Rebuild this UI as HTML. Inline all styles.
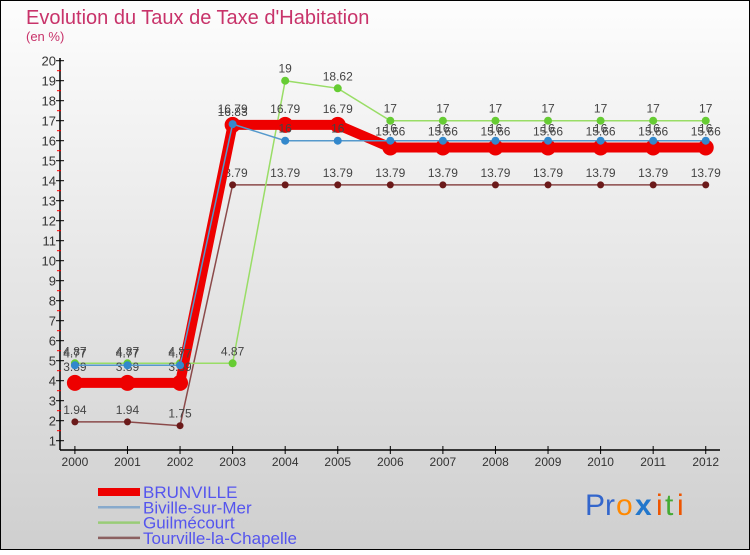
<!DOCTYPE html>
<html><head><meta charset="utf-8"><style>
body{margin:0;}
svg text{font-family:"Liberation Sans Narrow","Liberation Sans",sans-serif;}
</style></head><body>
<svg width="750" height="550" viewBox="0 0 750 550" xmlns="http://www.w3.org/2000/svg">
<defs><linearGradient id="bg" x1="0" y1="0" x2="0" y2="1"><stop offset="0" stop-color="#fdfdfd"/><stop offset="1" stop-color="#cfcfcf"/></linearGradient></defs>
<rect x="0" y="0" width="750" height="550" fill="url(#bg)" stroke="#000" stroke-width="2"/>
<text x="26" y="24" font-size="20" fill="#c8336a">Evolution du Taux de Taxe d'Habitation</text>
<text x="26" y="41" font-size="13" fill="#c8336a">(en %)</text>
<g id="axes"></g>
<g id="series"></g>
<g id="legend"></g>
<g font-size="30">
<text x="585" y="515" fill="#3366cc">Pr</text><text x="616" y="515" fill="#ff8800">o</text><text x="635" y="515" fill="#2277cc" font-weight="bold">x</text><text x="656" y="515" fill="#ee5500">i</text><text x="665" y="515" fill="#44aa33">t</text><text x="677" y="515" fill="#ee5500">i</text>
</g>
</svg>
<script>
const years=[2000,2001,2002,2003,2004,2005,2006,2007,2008,2009,2010,2011,2012];
const brunville=[3.89,3.89,3.89,16.79,16.79,16.79,15.66,15.66,15.66,15.66,15.66,15.66,15.66];
const biville=[4.77,4.77,4.77,16.83,16,16,16,16,16,16,16,16,16];
const guilmecourt=[4.87,4.87,4.87,4.87,19,18.62,17,17,17,17,17,17,17];
const tourville=[1.94,1.94,1.75,13.79,13.79,13.79,13.79,13.79,13.79,13.79,13.79,13.79,13.79];
const seriesNames=["BRUNVILLE","Biville-sur-Mer","Guilmécourt","Tourville-la-Chapelle"];
const yTicks=[1,2,3,4,5,6,7,8,9,10,11,12,13,14,15,16,17,18,19,20];

const NS="http://www.w3.org/2000/svg";
const x=i=>74.9+i*52.57;
const y=v=>460.7-v*20;
function mk(tag,attrs,parent,txt){const e=document.createElementNS(NS,tag);for(const k in attrs)e.setAttribute(k,attrs[k]);if(txt!==undefined)e.textContent=txt;parent.appendChild(e);return e;}
const axes=document.getElementById('axes');
let e=mk('line',{x1:60,y1:58,x2:60,y2:450,stroke:'#000','stroke-width':1.5},axes);


e=mk('line',{x1:60,y1:450,x2:720,y2:450,stroke:'#000','stroke-width':1.5},axes);


yTicks.forEach(t=>{
  mk('line',{x1:56,y1:y(t),x2:64,y2:y(t),stroke:'#000'},axes);
  if(t<20) mk('line',{x1:57,y1:y(t+0.5),x2:61,y2:y(t+0.5),stroke:'#f00'},axes);
  const l=mk('text',{x:56,y:y(t)+5,'font-size':13,fill:'#333','text-anchor':'end'},axes,String(t));
  
  
});
years.forEach((yr,i)=>{
  mk('line',{x1:x(i),y1:446,x2:x(i),y2:454,stroke:'#000'},axes);
  const l=mk('text',{x:x(i),y:466,'font-size':12,fill:'#333','text-anchor':'middle'},axes,String(yr));
  
  
});
const sg=document.getElementById('series');
const defs=[
 {d:tourville,c:'#6b1a1a',lc:'#8b4a4a',w:1.5,r:3.5,name:'tourville-line'},
 {d:guilmecourt,c:'#66cc33',lc:'#99dd66',w:1.5,r:4,name:'guilmecourt-line'},
 {d:brunville,c:'#ee0000',lc:'#ee0000',w:10,r:8,name:'brunville-line'},
 {d:biville,c:'#3388cc',lc:'#5599cc',w:1.5,r:4,name:'biville-line'}
];
defs.forEach(s=>{
  const g=mk('g',{},sg);
  
  
  mk('polyline',{points:s.d.map((v,i)=>x(i)+','+y(v)).join(' '),fill:'none',stroke:s.lc,'stroke-width':s.w},g);
  s.d.forEach((v,i)=>{
    const p=mk('circle',{cx:x(i),cy:y(v),r:s.r,fill:s.c},g);
    
    
    const t=mk('text',{x:x(i),y:y(v)-8-(s.w>5?4:0),'font-size':12,fill:'#444','text-anchor':'middle'},g,String(v));
    
    
  });
});
const lg=document.getElementById('legend');
const lcol=['#ee0000','#88aacc','#99cc77','#8b6060'];
const lw=[8,2.5,2.5,2.5];
seriesNames.forEach((n,i)=>{
  const g=mk('g',{},lg);
  
  
  const yy=492+i*15.3;
  mk('line',{x1:98,y1:yy,x2:140,y2:yy,stroke:lcol[i],'stroke-width':lw[i]},g);
  mk('text',{x:143,y:yy+6,'font-size':17,fill:'#5555ee'},g,n);
});
</script>
</body></html>
